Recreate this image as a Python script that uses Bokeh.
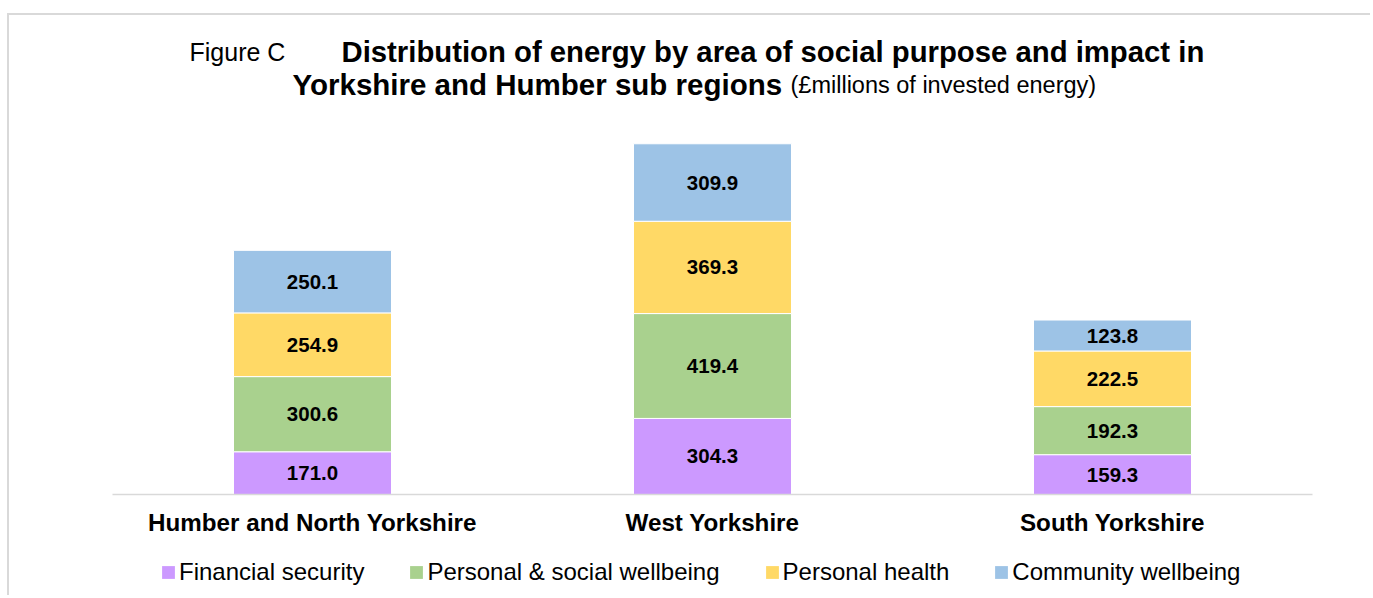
import numpy as np
from bokeh.plotting import figure
from bokeh.layouts import column
from bokeh.models import FactorRange, Range1d, Legend, LegendItem, ColumnDataSource
from bokeh.core.properties import value
from bokeh.embed import file_html
from bokeh.resources import INLINE

regions = ["Humber and North Yorkshire", "West Yorkshire", "South Yorkshire"]
series = ["Financial security", "Personal & social wellbeing", "Personal health", "Community wellbeing"]
financial = [171.0, 304.3, 159.3]
personal_social = [300.6, 419.4, 192.3]
personal_health = [254.9, 369.3, 222.5]
community = [250.1, 309.9, 123.8]
colors = ["#cc99ff", "#a9d18e", "#ffd966", "#9dc3e6"]
keys = ["fin", "soc", "hea", "com"]

FONT = value("Liberation Sans")
BORDER = "2px solid #d9d9d9"

data = {"region": regions, "fin": financial, "soc": personal_social, "hea": personal_health, "com": community}
src = ColumnDataSource(data)

p = figure(x_range=FactorRange(*regions), y_range=Range1d(0, 1916),
           width=1363, height=530, output_backend="svg", toolbar_location=None,
           min_border_left=103, min_border_right=60, min_border_top=0, min_border_bottom=51,
           y_axis_location=None)
p.styles = {"border-top": BORDER, "border-left": BORDER}
p.outline_line_color = None
p.xgrid.grid_line_color = None
p.ygrid.grid_line_color = None

rs = p.vbar_stack(keys, x="region", width=0.395, color=colors, source=src,
                  line_color="white", line_width=1)

# data labels
vals = np.array([financial, personal_social, personal_health, community])
cum = np.cumsum(vals, axis=0)
mids = cum - vals / 2
lx, ly, lt = [], [], []
for i in range(vals.shape[0]):
    for j, r in enumerate(regions):
        lx.append(r)
        ly.append(mids[i, j])
        lt.append(f"{vals[i, j]:.1f}")
p.text(x=lx, y=ly, text=lt, text_align="center", text_baseline="middle",
       text_font=FONT, text_font_style="bold", text_font_size="20.5px", text_color="#000000")

# title
p.text(x=[0.1925], y=[1772], text=["Figure C"], text_align="left", text_baseline="alphabetic",
       text_font=FONT, text_font_size="25px", text_color="#000000")
p.text(x=[0.5725], y=[1772], text=["Distribution of energy by area of social purpose and impact in"],
       text_align="left", text_baseline="alphabetic",
       text_font=FONT, text_font_style="bold", text_font_size="29.3px", text_color="#000000")
p.text(x=[0.45], y=[1640], text=["Yorkshire and Humber sub regions"], text_align="left",
       text_baseline="alphabetic", text_font=FONT, text_font_style="bold", text_font_size="29.5px",
       text_color="#000000")
p.text(x=[1.695], y=[1640], text=["(£millions of invested energy)"], text_align="left",
       text_baseline="alphabetic", text_font=FONT, text_font_size="23.5px", text_color="#000000")

ax = p.xaxis[0]
ax.axis_line_color = "#d9d9d9"
ax.axis_line_width = 1.5
ax.major_tick_line_color = None
ax.minor_tick_line_color = None
ax.major_label_text_font = "Liberation Sans"
ax.major_label_text_font_style = "bold"
ax.major_label_text_font_size = "24.2px"
ax.major_label_text_color = "#000000"
ax.major_label_standoff = 8

# legend strip below the chart (frame aligned with the chart above)
p2 = figure(x_range=FactorRange(*regions), y_range=Range1d(0, 1), width=1363, height=52,
            output_backend="svg", toolbar_location=None,
            min_border_left=0, min_border_right=0, min_border_top=0, min_border_bottom=0,
            x_axis_location=None, y_axis_location=None)
p2.styles = {"border-left": BORDER}
p2.outline_line_color = None
p2.xgrid.grid_line_color = None
p2.ygrid.grid_line_color = None
lrs = p2.vbar_stack(keys, x="region", width=0.395, fill_color=colors, line_color=None, source=src)
for r in lrs:
    r.visible = False

legend = Legend(items=[LegendItem(label=s, renderers=[r]) for s, r in zip(series, lrs)],
                orientation="horizontal", location=(48, 9),
                label_text_font="Liberation Sans", label_text_font_size="24px",
                label_text_color="#000000",
                glyph_width=16, glyph_height=16, label_standoff=3, spacing=44,
                padding=0, margin=0, border_line_color=None, background_fill_alpha=0)
p2.add_layout(legend, "center")

layout = column(p, p2, spacing=0, margin=(13, 0, 0, 7))

open("out.html", "w").write(file_html(layout, INLINE))
